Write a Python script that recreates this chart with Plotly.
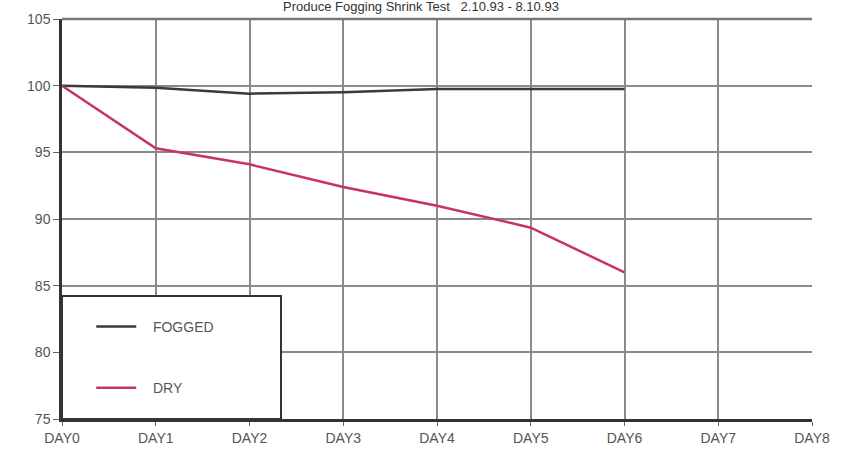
import plotly.graph_objects as go

day_labels = ["DAY0", "DAY1", "DAY2", "DAY3", "DAY4", "DAY5", "DAY6", "DAY7", "DAY8"]
day_index = [0, 1, 2, 3, 4, 5, 6, 7, 8]
measured_days = [0, 1, 2, 3, 4, 5, 6]
fogged = [100.0, 99.85, 99.4, 99.5, 99.75, 99.75, 99.75]
dry = [100.0, 95.3, 94.1, 92.4, 91.0, 89.35, 86.0]
y_ticks = [75, 80, 85, 90, 95, 100, 105]

fig = go.Figure()
fig.add_trace(go.Scatter(x=measured_days, y=fogged, mode="lines", name="   FOGGED",
                         legendgroup="a", line=dict(color="#3a3a3a", width=2.5)))
fig.add_trace(go.Scatter(x=measured_days, y=dry, mode="lines", name="   DRY",
                         legendgroup="b", line=dict(color="#c83462", width=2.5)))

# legend box
fig.add_shape(type="rect", xref="paper", yref="paper", x0=0.0, x1=0.292, y0=0.0, y1=0.3075,
              fillcolor="white", line=dict(color="#333", width=2), layer="above")
# top border line
fig.add_shape(type="line", xref="paper", yref="paper", x0=0, x1=1, y0=1, y1=1,
              line=dict(color="#777", width=2.5))

fig.update_layout(
    width=842, height=453,
    margin=dict(l=62, r=30, t=19, b=34, autoexpand=False),
    paper_bgcolor="white", plot_bgcolor="white",
    font=dict(family="Liberation Sans, Arial, sans-serif", color="#555", size=14),
    title=dict(text="Produce Fogging Shrink Test   2.10.93 - 8.10.93",
               x=0.5, xanchor="center", y=1.0, yref="container", yanchor="top",
               pad=dict(t=2, b=0), font=dict(size=13, color="#333")),
    showlegend=True,
    legend=dict(x=0.039, y=0.27, xanchor="left", yanchor="top",
                bgcolor="rgba(0,0,0,0)", borderwidth=0,
                font=dict(size=14, color="#555"), tracegroupgap=40,
                itemwidth=40),
    xaxis=dict(range=[0, 8], tickvals=day_index, ticktext=day_labels,
               showgrid=True, gridcolor="#8a8a8a", gridwidth=1.5,
               showline=True, linecolor="#333", linewidth=2.5, mirror=False,
               ticks="outside", ticklen=4, tickcolor="#666", zeroline=False,
               automargin=False, fixedrange=True),
    yaxis=dict(range=[75, 105], tickvals=y_ticks,
               showgrid=True, gridcolor="#8a8a8a", gridwidth=1.5,
               showline=True, linecolor="#333", linewidth=2.5, mirror=False,
               ticks="outside", ticklen=6, tickcolor="#666", zeroline=False,
               automargin=False, fixedrange=True),
)

fig.write_html("out.html", config={"displayModeBar": False},
               post_script="document.body.style.margin='0';")
